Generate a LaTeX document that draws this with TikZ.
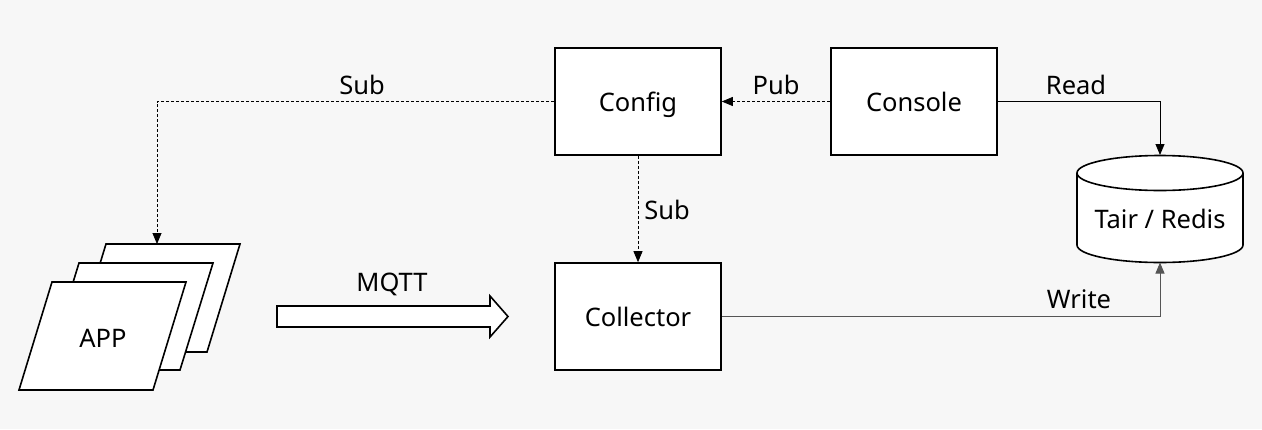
\documentclass[tikz,border=0pt]{standalone}
\usepackage{fontspec}
\setmainfont{Noto Sans}
\usetikzlibrary{arrows.meta}
\definecolor{bg}{HTML}{F7F7F7}
\definecolor{wline}{HTML}{555555}
\begin{document}
\begin{tikzpicture}[x=1pt,y=-1pt,
  lbl/.style={font=\fontsize{25.5}{30}\selectfont, inner sep=0pt},
  box/.style={draw=black, line width=1.6pt, fill=white, minimum width=166pt, minimum height=107pt, inner sep=0pt, text depth=0pt, font=\fontsize{25.5}{30}\selectfont},
  dashconn/.style={draw=black, line width=0.8pt, dash pattern=on 3pt off 2pt, -{Triangle[length=11pt,width=9pt]}},
  solidconn/.style={draw=black, line width=0.9pt, -{Triangle[length=11pt,width=9pt]}},
  para/.style={draw=black, line width=1.6pt, fill=white, line join=miter}
]
\useasboundingbox[fill=bg] (0,0) rectangle (1262,429);

\node[box] (config) at (638,101.5) {Config};
\node[box] (console) at (914,101.5) {Console};
\node[box] (collector) at (638,316.5) {Collector};

% database
\node[minimum width=166pt, minimum height=108pt, inner sep=0pt] (db) at (1160,209) {};
\draw[line width=1.6pt, fill=white] (1077,173) -- (1077,245) arc[start angle=180,end angle=360,x radius=83pt,y radius=17.5pt] -- (1243,173) arc[start angle=0,end angle=180,x radius=83pt,y radius=17.5pt] -- cycle;
\draw[line width=1.6pt] (1077,173) arc[start angle=180,end angle=360,x radius=83pt,y radius=17.5pt];
\node[lbl, text depth=0pt] (dbtext) at (1160,219) {Tair / Redis};

% APP stack
\draw[para] (106,244) -- (240,244) -- (207,352) -- (73,352) -- cycle;
\draw[para] (79,263) -- (213,263) -- (180,370) -- (46,370) -- cycle;
\draw[para] (52,282) -- (186,282) -- (153,390) -- (19,390) -- cycle;
\node[lbl] (app) at (103,338) {APP};
\coordinate (apptop) at (157,244);

% MQTT arrow
\draw[line width=1.6pt, fill=white, line join=miter] (277,306) -- (490,306) -- (490,296) -- (508,316.5) -- (490,337) -- (490,327) -- (277,327) -- cycle;
\node[lbl] (mqtt) at (392,284) {MQTT};

% connectors
\draw[dashconn] (config.west) -| (apptop);
\node[lbl] (sub1) at (362,85) {Sub};
\draw[dashconn] (console.west) -- (config.east);
\node[lbl] (pub) at (776,85) {Pub};
\draw[dashconn] (config.south) -- (collector.north);
\node[lbl] (sub2) at (667,210) {Sub};
\coordinate (dbtop) at (1160,155);
\coordinate (dbbot) at (1160,262.5);
\draw[solidconn] (console.east) -| (dbtop);
\node[lbl] (read) at (1076,85) {Read};
\draw[solidconn, draw=wline] (collector.east) -| (dbbot);
\node[lbl] (write) at (1079,299) {Write};
\end{tikzpicture}
\end{document}
